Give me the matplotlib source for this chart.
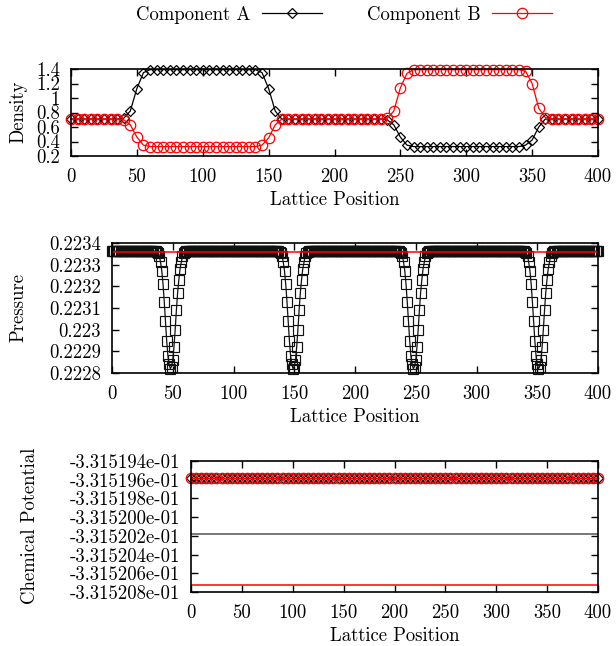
import numpy as np
import matplotlib.pyplot as plt

plt.rcParams['font.family'] = ['cmr10', 'DejaVu Serif']
plt.rcParams['axes.unicode_minus'] = False
plt.rcParams['font.size'] = 13.5

# --- density profiles, sampled every 5 lattice sites ---
x_dens = np.arange(0, 401, 5)
dens_a = [0.71, 0.71, 0.71, 0.71, 0.71, 0.71, 0.71, 0.71, 0.72,
          0.82, 1.13, 1.35,
          1.39, 1.39, 1.39, 1.39, 1.39, 1.39, 1.39, 1.39, 1.39,
          1.39, 1.39, 1.39, 1.39, 1.39, 1.39, 1.39, 1.39,
          1.35, 1.13, 0.82,
          0.71, 0.71, 0.71, 0.71, 0.71, 0.71, 0.71, 0.71, 0.71,
          0.71, 0.71, 0.71, 0.71, 0.71, 0.71, 0.71, 0.70,
          0.63, 0.46, 0.35,
          0.33, 0.33, 0.33, 0.33, 0.33, 0.33, 0.33, 0.33, 0.33,
          0.33, 0.33, 0.33, 0.33, 0.33, 0.33, 0.33, 0.33,
          0.35, 0.42, 0.60,
          0.71, 0.71, 0.71, 0.71, 0.71, 0.71, 0.71, 0.71, 0.71]
dens_b = [0.71, 0.71, 0.71, 0.71, 0.71, 0.71, 0.71, 0.71, 0.70,
          0.63, 0.46, 0.35,
          0.33, 0.33, 0.33, 0.33, 0.33, 0.33, 0.33, 0.33, 0.33,
          0.33, 0.33, 0.33, 0.33, 0.33, 0.33, 0.33, 0.33,
          0.35, 0.45, 0.63,
          0.71, 0.71, 0.71, 0.71, 0.71, 0.71, 0.71, 0.71, 0.71,
          0.71, 0.71, 0.71, 0.71, 0.71, 0.71, 0.71, 0.72,
          0.82, 1.14, 1.34,
          1.39, 1.39, 1.39, 1.39, 1.39, 1.39, 1.39, 1.39, 1.39,
          1.39, 1.39, 1.39, 1.39, 1.39, 1.39, 1.39, 1.39,
          1.37, 1.20, 0.86,
          0.73, 0.71, 0.71, 0.71, 0.71, 0.71, 0.71, 0.71, 0.71]

# --- pressure, every lattice site ---
x_pres = np.arange(0, 401)
p_bulk = 0.223362
p_ref = 0.223357
# one interface dip (24 sites)
p_dip = [0.22336, 0.223355, 0.22334, 0.22331, 0.22327, 0.22321, 0.22313,
         0.22304, 0.22295, 0.22288, 0.22284, 0.22282, 0.22283, 0.22286,
         0.22292, 0.22300, 0.22309, 0.22317, 0.22323, 0.22328, 0.22331,
         0.22334, 0.223355, 0.22336]
dip_starts = [37, 138, 237, 340]

# --- chemical potential ---
mu_pts = -3.3151958e-01
mu_line_a = -3.3152018e-01
mu_line_b = -3.3152073e-01

pres = np.full(x_pres.size, p_bulk)
for s in dip_starts:
    pres[s:s + len(p_dip)] = p_dip

W, H = 616, 646
fig = plt.figure(figsize=(W / 100, H / 100), dpi=100)

def frame(ax):
    ax.set_xlim(0, 400)
    ax.set_xticks(np.arange(0, 401, 50))
    ax.tick_params(direction='in', length=5, width=1, top=True, right=True,
                   labelsize=13.5)
    ax.tick_params(axis='x', pad=9)
    ax.tick_params(axis='y', pad=8)
    for sp in ax.spines.values():
        sp.set_linewidth(1.2)
    ax.set_xlabel('Lattice Position', labelpad=3)

def box(l, t, r, b):
    return [l / W, 1 - b / H, (r - l) / W, (b - t) / H]

# density
ax1 = fig.add_axes(box(71, 69, 598, 156))
la, = ax1.plot(x_dens, dens_a, '-', color='black', lw=0.9, marker='D',
               ms=5.5, mfc='none', mew=0.9, clip_on=False, label='Component A')
lb, = ax1.plot(x_dens, dens_b, '-', color='red', lw=0.9, marker='o',
               ms=7.5, mfc='none', mew=0.9, clip_on=False, label='Component B')
ax1.set_ylim(0.2, 1.4)
ax1.set_yticks([0.2, 0.4, 0.6, 0.8, 1.0, 1.2, 1.4])
ax1.set_yticklabels(['0.2', '0.4', '0.6', '0.8', '1', '1.2', '1.4'])
frame(ax1)
fig.text(18 / W, 1 - 112 / H, 'Density', rotation=90, ha='center', va='center')

# pressure
ax2 = fig.add_axes(box(112, 243, 598, 373))
ax2.plot(x_pres, pres, '-', color='#111111', lw=0.9, marker='s', ms=6.8,
         mfc='none', mew=0.85, clip_on=False)
ax2.plot([0, 400], [p_ref, p_ref], color='red', lw=1.1)
ax2.set_ylim(0.2228, 0.2234)
pt = [0.2228, 0.2229, 0.2230, 0.2231, 0.2232, 0.2233, 0.2234]
ax2.set_yticks(pt)
ax2.set_yticklabels(['0.2228', '0.2229', '0.223', '0.2231', '0.2232', '0.2233', '0.2234'])
frame(ax2)
fig.text(18 / W, 1 - 308 / H, 'Pressure', rotation=90, ha='center', va='center')

# chemical potential
ax3 = fig.add_axes(box(191, 461, 598, 592))
ax3.plot(x_dens, np.full(x_dens.size, mu_pts), '-', color='black', lw=0.9,
         marker='D', ms=5.5, mfc='none', mew=0.9, clip_on=False)
ax3.plot(x_dens, np.full(x_dens.size, mu_pts), '-', color='red', lw=0.9,
         marker='o', ms=7.5, mfc='none', mew=0.9, clip_on=False)
ax3.plot([0, 400], [mu_line_a, mu_line_a], color='#777777', lw=1.4)
ax3.plot([0, 400], [mu_line_b, mu_line_b], color='red', lw=1.1)
ax3.set_ylim(-3.315208e-01, -3.315194e-01)
mt = [-3.315208e-01, -3.315206e-01, -3.315204e-01, -3.315202e-01,
      -3.315200e-01, -3.315198e-01, -3.315196e-01, -3.315194e-01]
ax3.set_yticks(mt)
ax3.set_yticklabels(['%.6e' % v for v in mt])
frame(ax3)
fig.text(30 / W, 1 - 526 / H, 'Chemical Potential', rotation=90, ha='center', va='center')

fig.legend(handles=[la, lb], loc='center', bbox_to_anchor=(344 / W, 1 - 15 / H),
           ncol=2, frameon=False, markerfirst=False, handlelength=3.2,
           columnspacing=2.4, handletextpad=0.6, fontsize=13.5)

fig.savefig('out.png', dpi=100)
